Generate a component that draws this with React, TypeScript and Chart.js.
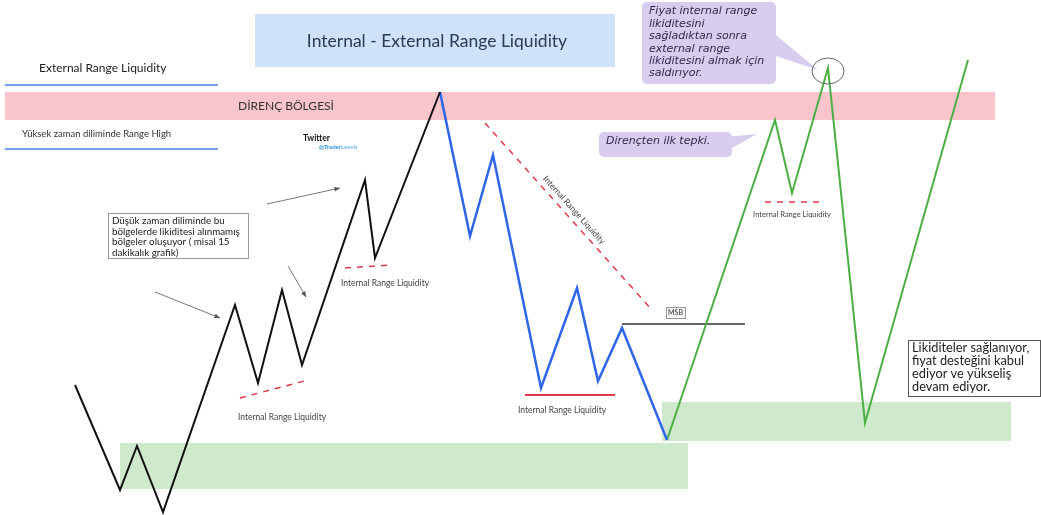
import React, { useEffect, useRef } from "react";
import { Chart, registerables } from "chart.js";
Chart.register(...registerables);

const W = 1041;
const H = 515;

// price path (x = time units, y = price units, top = 0)
const blackX = [75, 120, 137, 163, 235, 258, 282, 302, 365, 375, 440];
const blackY = [385, 490, 446, 512, 305, 383, 290, 365, 180, 258, 92];
const blueX = [440, 470, 493, 541, 577, 598, 622, 667];
const blueY = [92, 236, 155, 388, 288, 381, 328, 440];
const greenX = [667, 775, 792, 828, 865, 968];
const greenY = [440, 120, 193, 68, 423, 60];

// liquidity levels
const dashX = [[240, 308], [345, 392], [485, 652], [765, 825]];
const dashY = [[398, 380], [268, 265], [123, 310], [202, 202]];
const solidRedX = [525, 615];
const solidRedY = [395, 395];
const msbX = [622, 745];
const msbY = [324, 324];

// zones [x1, y1, x2, y2]
const titleBox = [255, 14, 615, 67];
const resistanceZone = [5, 92, 995, 120];
const supportZones = [[120, 443, 688, 489], [662, 402, 1011, 441]];

const irlLabels = ["Internal Range Liquidity", "Internal Range Liquidity", "Internal Range Liquidity", "Internal Range Liquidity"];
const irlLabelX = [282, 385, 562, 792];
const irlLabelY = [417, 283, 410, 215];

const titleText = "Internal - External Range Liquidity";
const zoneText = "DİRENÇ BÖLGESİ";
const erlText = "External Range Liquidity";
const htfText = "Yüksek zaman diliminde Range High";
const ltfLines = ["Düşük zaman diliminde bu", "bölgelerde likiditesi alınmamış", "bölgeler oluşuyor ( misal 15", "dakikalık grafik)"];
const endLines = ["Likiditeler sağlanıyor,", "fiyat desteğini kabul", "ediyor ve yükseliş", "devam ediyor."];
const calloutLines = ["Fiyat internal range", "likiditesini", "sağladıktan sonra", "external range", "likiditesini almak için", "saldırıyor."];
const callout2Text = "Dirençten ilk tepki.";

const arrowsFrom = [[155, 292], [267, 204], [288, 266]];
const arrowsTo = [[220, 318], [340, 188], [306, 297]];

const FONT = "Lato, 'Open Sans', sans-serif";
const IFONT = "'DejaVu Sans', 'Open Sans', sans-serif";

function pts(xs: number[], ys: number[]) {
  return xs.map((x, i) => ({ x, y: ys[i] }));
}

export default function App() {
  const ref = useRef<HTMLCanvasElement | null>(null);
  useEffect(() => {
    if (!ref.current) return;
    const overlay = {
      id: "overlay",
      beforeDatasetsDraw(chart: any) {
        const { ctx, scales } = chart;
        const px = (v: number) => scales.x.getPixelForValue(v);
        const py = (v: number) => scales.y.getPixelForValue(v);
        const rect = (b: number[], color: string) => {
          ctx.fillStyle = color;
          ctx.fillRect(px(b[0]), py(b[1]), px(b[2]) - px(b[0]), py(b[3]) - py(b[1]));
        };
        ctx.save();
        rect(titleBox, "#cfe2fb");
        rect(resistanceZone, "#f9c4ca");
        supportZones.forEach((b) => rect(b, "#cfe9cc"));
        // title
        ctx.fillStyle = "#2d3a4e";
        ctx.font = `17.5px ${FONT}`;
        ctx.textAlign = "center";
        ctx.textBaseline = "middle";
        ctx.fillText(titleText, px(437), py(41));
        ctx.font = `12px ${FONT}`;
        ctx.fillStyle = "#333";
        ctx.fillText(zoneText, px(286), py(106));
        ctx.textAlign = "left";
        ctx.font = `12px ${FONT}`;
        ctx.fillStyle = "#222";
        ctx.fillText(erlText, px(39), py(68));
        ctx.font = `9.5px ${FONT}`;
        ctx.fillStyle = "#333";
        ctx.fillText(htfText, px(22), py(134));
        ctx.strokeStyle = "#4a7fd6";
        ctx.lineWidth = 1.5;
        ctx.beginPath();
        ctx.moveTo(px(5), py(85)); ctx.lineTo(px(218), py(85));
        ctx.moveTo(px(5), py(149)); ctx.lineTo(px(218), py(149));
        ctx.stroke();
        ctx.restore();
      },
      afterDatasetsDraw(chart: any) {
        const { ctx, scales } = chart;
        const px = (v: number) => scales.x.getPixelForValue(v);
        const py = (v: number) => scales.y.getPixelForValue(v);
        ctx.save();
        // IRL labels
        ctx.fillStyle = "#444";
        ctx.textAlign = "center";
        ctx.textBaseline = "middle";
        irlLabels.forEach((t, i) => {
          ctx.font = `${i === 3 ? 7.5 : 8.5}px ${FONT}`;
          ctx.fillText(t, px(irlLabelX[i]), py(irlLabelY[i]));
        });
        // diagonal label
        ctx.save();
        ctx.translate(px(574), py(210));
        ctx.rotate(Math.atan2(py(310) - py(123), px(652) - px(485)));
        ctx.font = `8.5px ${FONT}`;
        ctx.fillText("Internal Range Liquidity", 0, 0);
        ctx.restore();
        // MSB
        ctx.fillStyle = "#f4f4f4";
        ctx.strokeStyle = "#999";
        ctx.lineWidth = 1;
        ctx.fillRect(px(666), py(307), px(685) - px(666), py(318) - py(307));
        ctx.strokeRect(px(666) + 0.5, py(307) + 0.5, px(685) - px(666), py(318) - py(307));
        ctx.fillStyle = "#333";
        ctx.font = `7px ${FONT}`;
        ctx.fillText("MSB", px(675.5), py(313));
        // text boxes
        const tbox = (b: number[], lines: string[], size: number, lh: number, border: string) => {
          ctx.fillStyle = "#fff";
          ctx.fillRect(px(b[0]), py(b[1]), px(b[2]) - px(b[0]), py(b[3]) - py(b[1]));
          ctx.strokeStyle = border;
          ctx.lineWidth = 1;
          ctx.strokeRect(px(b[0]) + 0.5, py(b[1]) + 0.5, px(b[2]) - px(b[0]), py(b[3]) - py(b[1]));
          ctx.fillStyle = "#222";
          ctx.textAlign = "left";
          ctx.font = `${size}px ${FONT}`;
          lines.forEach((l, i) => ctx.fillText(l, px(b[0]) + 4, py(b[1]) + 8 + i * lh));
        };
        tbox([108, 213, 248, 258], ltfLines, 9.8, 10.5, "#999");
        tbox([908, 340, 1040, 396], endLines, 12.8, 12.8, "#555");
        // callouts
        const callout = (b: number[], tri: number[][], lines: string[], size: number, lh: number) => {
          ctx.fillStyle = "#d8cdee";
          ctx.beginPath();
          ctx.roundRect(px(b[0]), py(b[1]), px(b[2]) - px(b[0]), py(b[3]) - py(b[1]), 5);
          ctx.fill();
          ctx.beginPath();
          ctx.moveTo(px(tri[0][0]), py(tri[0][1]));
          ctx.lineTo(px(tri[1][0]), py(tri[1][1]));
          ctx.lineTo(px(tri[2][0]), py(tri[2][1]));
          ctx.closePath();
          ctx.fill();
          ctx.fillStyle = "#2e2850";
          ctx.textAlign = "left";
          ctx.font = `italic ${size}px ${IFONT}`;
          lines.forEach((l, i) => ctx.fillText(l, px(b[0]) + 7, py(b[1]) + 9.5 + i * lh));
        };
        callout([642, 2, 776, 84], [[770, 30], [770, 54], [818, 70]], calloutLines, 11, 12.4);
        callout([599, 132, 732, 157], [[725, 137], [725, 152], [757, 134]], [callout2Text], 11, 12);
        // ellipse
        ctx.strokeStyle = "#666";
        ctx.lineWidth = 1;
        ctx.beginPath();
        ctx.ellipse(px(828), py(71), 16, 13, 0, 0, Math.PI * 2);
        ctx.stroke();
        // twitter
        ctx.fillStyle = "#111";
        ctx.font = `bold 8.5px ${FONT}`;
        ctx.fillText("Twitter", px(303), py(138));
        ctx.font = `bold 6px ${FONT}`;
        ctx.fillStyle = "#2a8fe0";
        ctx.fillText("@Trader", px(319), py(147));
        ctx.fillStyle = "#6fb7f0";
        ctx.fillText("Leevis", px(319) + ctx.measureText("@Trader").width, py(147));
        // arrows
        ctx.strokeStyle = "#555";
        ctx.fillStyle = "#555";
        ctx.lineWidth = 0.8;
        arrowsFrom.forEach((f, i) => {
          const t = arrowsTo[i];
          const x1 = px(f[0]), y1 = py(f[1]), x2 = px(t[0]), y2 = py(t[1]);
          ctx.beginPath();
          ctx.moveTo(x1, y1);
          ctx.lineTo(x2, y2);
          ctx.stroke();
          const a = Math.atan2(y2 - y1, x2 - x1);
          ctx.beginPath();
          ctx.moveTo(x2, y2);
          ctx.lineTo(x2 - 6 * Math.cos(a - 0.4), y2 - 6 * Math.sin(a - 0.4));
          ctx.lineTo(x2 - 6 * Math.cos(a + 0.4), y2 - 6 * Math.sin(a + 0.4));
          ctx.closePath();
          ctx.fill();
        });
        ctx.restore();
      },
    };

    const line = (xs: number[], ys: number[], color: string, width: number, dash: number[] = []) => ({
      data: pts(xs, ys),
      borderColor: color,
      borderWidth: width,
      borderDash: dash,
      pointRadius: 0,
      fill: false,
      tension: 0,
    });

    const datasets: any[] = [
      line(blackX, blackY, "#111111", 2),
      line(blueX, blueY, "#2f66e8", 2.5),
      line(greenX, greenY, "#4caf45", 2),
      ...dashX.map((xs, i) => line(xs, dashY[i], "#e0384a", 1.5, [6, 6])),
      line(solidRedX, solidRedY, "#e0384a", 1.8),
      line(msbX, msbY, "#333333", 1.5),
    ];

    const chart = new Chart(ref.current, {
      type: "line",
      data: { datasets },
      options: {
        animation: false,
        responsive: false,
        maintainAspectRatio: false,
        layout: { padding: 0 },
        plugins: { legend: { display: false }, tooltip: { enabled: false } },
        scales: {
          x: { type: "linear", min: 0, max: W, display: false },
          y: { type: "linear", min: 0, max: H, reverse: true, display: false },
        },
      },
      plugins: [overlay],
    });
    return () => chart.destroy();
  }, []);

  return (
    <div style={{ position: "fixed", left: 0, top: 0, width: W, height: H, background: "#fff" }}>
      <canvas ref={ref} width={W} height={H} style={{ width: W, height: H }} />
    </div>
  );
}
